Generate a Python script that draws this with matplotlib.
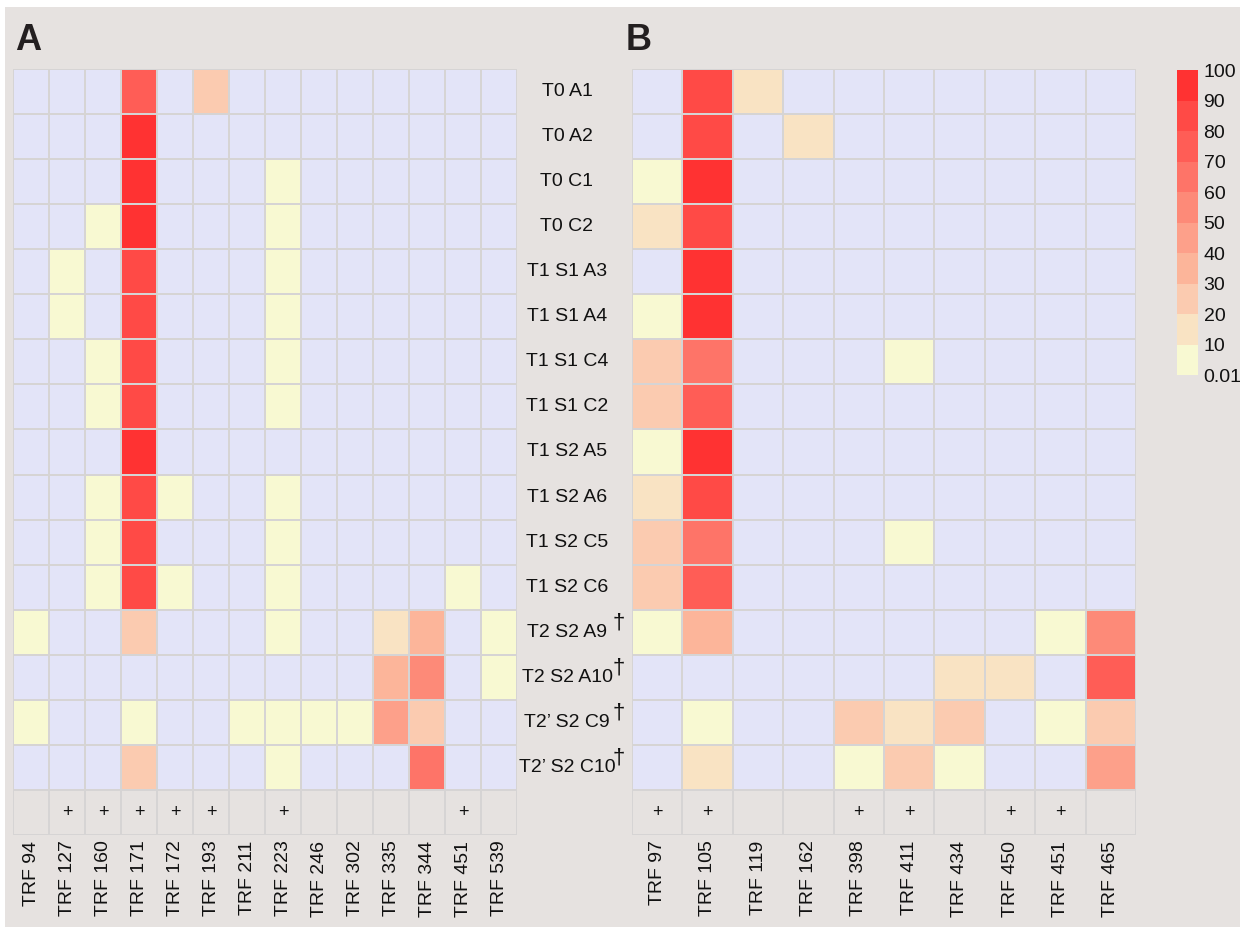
import numpy as np
import matplotlib
matplotlib.use("Agg")
import matplotlib.pyplot as plt
from matplotlib.colors import ListedColormap, BoundaryNorm
from matplotlib.patches import Rectangle
import matplotlib.transforms as mtransforms
import matplotlib.cm as cm

plt.rcParams['font.family'] = ['Liberation Sans', 'DejaVu Sans']

# ---------------- data ----------------
rows = ["T0 A1", "T0 A2", "T0 C1", "T0 C2", "T1 S1 A3", "T1 S1 A4", "T1 S1 C4", "T1 S1 C2",
        "T1 S2 A5", "T1 S2 A6", "T1 S2 C5", "T1 S2 C6", "T2 S2 A9", "T2 S2 A10",
        "T2\u2019 S2 C9", "T2\u2019 S2 C10"]
dagger_rows = [False] * 12 + [True] * 4

cols_a = ["TRF 94", "TRF 127", "TRF 160", "TRF 171", "TRF 172", "TRF 193", "TRF 211",
          "TRF 223", "TRF 246", "TRF 302", "TRF 335", "TRF 344", "TRF 451", "TRF 539"]
plus_a = [0, 1, 1, 1, 1, 1, 0, 1, 0, 0, 0, 0, 1, 0]
vals_a = [
    [0, 0, 0, 75, 0, 25, 0, 0, 0, 0, 0, 0, 0, 0],
    [0, 0, 0, 95, 0, 0, 0, 0, 0, 0, 0, 0, 0, 0],
    [0, 0, 0, 95, 0, 0, 0, 5, 0, 0, 0, 0, 0, 0],
    [0, 0, 5, 95, 0, 0, 0, 5, 0, 0, 0, 0, 0, 0],
    [0, 5, 0, 85, 0, 0, 0, 5, 0, 0, 0, 0, 0, 0],
    [0, 5, 0, 85, 0, 0, 0, 5, 0, 0, 0, 0, 0, 0],
    [0, 0, 5, 85, 0, 0, 0, 5, 0, 0, 0, 0, 0, 0],
    [0, 0, 5, 85, 0, 0, 0, 5, 0, 0, 0, 0, 0, 0],
    [0, 0, 0, 95, 0, 0, 0, 0, 0, 0, 0, 0, 0, 0],
    [0, 0, 5, 85, 5, 0, 0, 5, 0, 0, 0, 0, 0, 0],
    [0, 0, 5, 85, 0, 0, 0, 5, 0, 0, 0, 0, 0, 0],
    [0, 0, 5, 85, 5, 0, 0, 5, 0, 0, 0, 0, 5, 0],
    [5, 0, 0, 25, 0, 0, 0, 5, 0, 0, 15, 35, 0, 5],
    [0, 0, 0, 0, 0, 0, 0, 0, 0, 0, 35, 55, 0, 5],
    [5, 0, 0, 5, 0, 0, 5, 5, 5, 5, 45, 25, 0, 0],
    [0, 0, 0, 25, 0, 0, 0, 5, 0, 0, 0, 65, 0, 0],
]

cols_b = ["TRF 97", "TRF 105", "TRF 119", "TRF 162", "TRF 398", "TRF 411", "TRF 434",
          "TRF 450", "TRF 451", "TRF 465"]
plus_b = [1, 1, 0, 0, 1, 1, 0, 1, 1, 0]
vals_b = [
    [0, 85, 15, 0, 0, 0, 0, 0, 0, 0],
    [0, 85, 0, 15, 0, 0, 0, 0, 0, 0],
    [5, 95, 0, 0, 0, 0, 0, 0, 0, 0],
    [15, 85, 0, 0, 0, 0, 0, 0, 0, 0],
    [0, 95, 0, 0, 0, 0, 0, 0, 0, 0],
    [5, 95, 0, 0, 0, 0, 0, 0, 0, 0],
    [25, 65, 0, 0, 0, 5, 0, 0, 0, 0],
    [25, 75, 0, 0, 0, 0, 0, 0, 0, 0],
    [5, 95, 0, 0, 0, 0, 0, 0, 0, 0],
    [15, 85, 0, 0, 0, 0, 0, 0, 0, 0],
    [25, 65, 0, 0, 0, 5, 0, 0, 0, 0],
    [25, 75, 0, 0, 0, 0, 0, 0, 0, 0],
    [5, 35, 0, 0, 0, 0, 0, 0, 5, 55],
    [0, 0, 0, 0, 0, 0, 15, 15, 0, 75],
    [0, 5, 0, 0, 25, 15, 25, 0, 5, 25],
    [0, 15, 0, 0, 5, 25, 5, 0, 0, 45],
]

bounds = [0, 0.01, 10, 20, 30, 40, 50, 60, 70, 80, 90, 100]
cbar_labels = ["0.01", "10", "20", "30", "40", "50", "60", "70", "80", "90", "100"]

# ---------------- style ----------------
BG = "#e6e2e0"
ZERO = "#e3e4f8"
GRID = "#d6d4d4"
bin_colors = ["#f8f9d2", "#f9e3c3", "#fbcbb0", "#fcb59a", "#fda08a",
              "#fd8a78", "#fe7468", "#ff5d56", "#ff4a46", "#ff3232"]
cmap = ListedColormap([ZERO] + bin_colors)
norm = BoundaryNorm(bounds, cmap.N)

W, H = 1245, 932
fig = plt.figure(figsize=(W / 100, H / 100), dpi=100, facecolor="white")
fig.patches.append(Rectangle((5 / W, 1 - 927 / H), 1235 / W, 920 / H,
                             transform=fig.transFigure, facecolor=BG,
                             edgecolor="none", zorder=-10))

top_px, bot_px = 69, 835
nrows = len(rows)


def draw_panel(left_px, right_px, cols, vals, plus):
    ax = fig.add_axes([left_px / W, 1 - bot_px / H, (right_px - left_px) / W,
                       (bot_px - top_px) / H])
    ax.set_facecolor(BG)
    data = np.array(vals, dtype=float)
    nc = len(cols)
    x = np.arange(nc + 1)
    y = np.arange(nrows + 1)
    ax.pcolormesh(x, y, data, cmap=cmap, norm=norm, edgecolors=GRID, linewidth=1.1)
    # bottom "+" row
    ax.pcolormesh(x, [nrows, nrows + 1], np.zeros((1, nc)),
                  cmap=ListedColormap([BG]), edgecolors=GRID, linewidth=1.1)
    for j, p in enumerate(plus):
        if p:
            ax.text(j + 0.5, nrows + 0.5, "+", ha="center", va="center",
                    fontsize=13, color="#111111")
    ax.set_xlim(0, nc)
    ax.set_ylim(nrows + 1, 0)
    ax.set_xticks(np.arange(nc) + 0.5)
    ax.set_xticklabels(cols, rotation=90, fontsize=14, color="#111111")
    ax.set_yticks([])
    ax.tick_params(axis="x", length=0, pad=4)
    for s in ax.spines.values():
        s.set_visible(False)
    return ax


axA = draw_panel(13, 517, cols_a, vals_a, plus_a)
axB = draw_panel(632, 1136, cols_b, vals_b, plus_b)

fig.text(15 / W, 1 - 40 / H, "A", fontsize=26, fontweight="bold", ha="left",
         va="center", color="#231f20")
fig.text(626 / W, 1 - 40 / H, "B", fontsize=26, fontweight="bold", ha="left",
         va="center", color="#231f20")

trans = mtransforms.blended_transform_factory(fig.transFigure, axA.transData)
for i, (lab, dg) in enumerate(zip(rows, dagger_rows)):
    fig.text(567 / W, i + 0.5, lab, transform=trans, ha="center", va="center",
             fontsize=14, color="#111111")
    if dg:
        fig.text(619 / W, i + 0.3, "\u2020", transform=trans, ha="center",
                 va="center", fontsize=16, color="#111111")

# colorbar
cax = fig.add_axes([1177 / W, 1 - 375 / H, 21 / W, 305 / H])
cb_cmap = ListedColormap(bin_colors)
cb_norm = BoundaryNorm(bounds[1:], cb_cmap.N)
sm = cm.ScalarMappable(norm=cb_norm, cmap=cb_cmap)
cb = fig.colorbar(sm, cax=cax, boundaries=bounds[1:], ticks=bounds[1:],
                  spacing="uniform")
cb.set_ticklabels(cbar_labels)
cb.outline.set_visible(False)
cax.tick_params(length=0, labelsize=14, pad=4, colors="#111111")

fig.savefig("out.png", dpi=100, facecolor="white")
